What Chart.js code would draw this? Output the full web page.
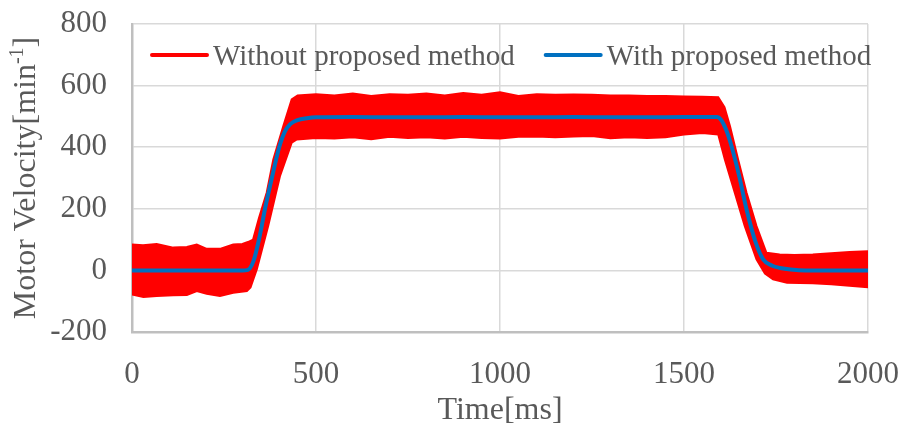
<!DOCTYPE html>
<html>
<head>
<meta charset="utf-8">
<script src="https://cdn.jsdelivr.net/npm/chart.js@4"></script>
<style>
  body { margin: 0; background: #fff; }
</style>
</head>
<body>
<canvas id="velocityChart" width="905" height="432"></canvas>
<script>
// tick positions
const xTicks = [0, 500, 1000, 1500, 2000];
const yTicks = [-200, 0, 200, 400, 600, 800];

// "With proposed method" velocity profile [ms, min^-1]
const withTime = [0, 300, 315, 330, 345, 363, 380, 400, 415, 430, 450, 475, 500, 600, 700, 800, 900, 1000, 1100, 1200, 1300, 1400, 1500, 1590, 1600, 1615, 1629, 1650, 1670, 1695, 1715, 1740, 1761, 1790, 1830, 2000];
const withVel = [0, 0, 2, 30, 100, 209, 300, 400, 450, 475, 488, 494, 497, 498, 497, 497, 498, 497, 497, 498, 497, 497, 498, 498, 490, 455, 404, 306, 198, 90, 36, 15, 8, 3, 0, 0];

// "Without proposed method": the oscillation is dense, so it is drawn as its upper/lower envelope
const upperTime = [0, 30, 67, 112, 149, 176, 203, 239, 275, 300, 315, 329, 345, 366, 384, 411, 434, 450, 500, 550, 600, 650, 700, 750, 800, 850, 900, 950, 1000, 1050, 1100, 1150, 1200, 1250, 1300, 1350, 1400, 1450, 1500, 1550, 1593, 1610, 1625, 1647, 1670, 1697, 1724, 1760, 1800, 1850, 1900, 1950, 2000];
const upperVel = [84, 82, 86, 74, 76, 84, 70, 70, 84, 86, 92, 100, 170, 252, 360, 468, 555, 568, 572, 568, 574, 566, 572, 570, 574, 568, 576, 570, 578, 566, 572, 570, 571, 570, 568, 568, 566, 566, 565, 564, 562, 530, 468, 360, 252, 144, 57, 52, 50, 52, 56, 60, 62];

const lowerTime = [0, 31, 67, 112, 149, 176, 203, 239, 275, 312, 322, 339, 370, 402, 434, 448, 500, 550, 600, 650, 700, 750, 800, 850, 900, 950, 1000, 1050, 1100, 1150, 1200, 1250, 1300, 1350, 1400, 1450, 1500, 1550, 1593, 1611, 1638, 1665, 1697, 1720, 1742, 1780, 1850, 1900, 1950, 2000];
const lowerVel = [-78, -86, -83, -81, -80, -67, -76, -83, -73, -67, -55, 3, 144, 306, 415, 425, 430, 428, 432, 426, 434, 430, 432, 428, 434, 430, 428, 434, 435, 432, 435, 436, 429, 432, 430, 432, 441, 446, 441, 360, 252, 144, 36, -10, -29, -40, -42, -45, -50, -55];

const serif = '"Liberation Serif", "Times New Roman", serif';
const textColor = '#595959';

const toPoints = (xs, ys) => xs.map((x, i) => ({ x: x, y: ys[i] }));

// y axis title (with superscript) and the legend inside the plot area
const overlayText = {
    id: 'overlayText',
    afterDraw(chart) {
        const { ctx, chartArea } = chart;

        ctx.save();
        ctx.fillStyle = textColor;
        ctx.textBaseline = 'middle';
        ctx.translate(27, (chartArea.top + chartArea.bottom) / 2);
        ctx.rotate(-Math.PI / 2);
        const main = 'Motor Velocity[min', sup = '-1', end = ']';
        ctx.font = `32px ${serif}`;
        const w1 = ctx.measureText(main).width;
        const w3 = ctx.measureText(end).width;
        ctx.font = `20px ${serif}`;
        const w2 = ctx.measureText(sup).width;
        let x = -(w1 + w2 + w3) / 2;
        ctx.font = `32px ${serif}`;
        ctx.textAlign = 'left';
        ctx.fillText(main, x, 0);
        x += w1;
        ctx.font = `20px ${serif}`;
        ctx.fillText(sup, x, -9);
        x += w2;
        ctx.font = `32px ${serif}`;
        ctx.fillText(end, x, 0);
        ctx.restore();

        ctx.save();
        ctx.font = `29px ${serif}`;
        ctx.textBaseline = 'alphabetic';
        ctx.lineCap = 'round';
        let lx = 152;
        const ly = 55;
        chart.data.datasets.forEach(ds => {
            if (!ds.label) return;
            ctx.strokeStyle = ds.borderColor;
            ctx.lineWidth = 4;
            ctx.beginPath();
            ctx.moveTo(lx, ly);
            ctx.lineTo(lx + 55, ly);
            ctx.stroke();
            ctx.fillStyle = textColor;
            ctx.fillText(ds.label, lx + 61, ly + 10);
            lx += 61 + ctx.measureText(ds.label).width + 31;
        });
        ctx.restore();
    }
};

const ctx = document.getElementById('velocityChart').getContext('2d');
new Chart(ctx, {
    type: 'line',
    data: {
        datasets: [
            {
                label: 'Without proposed method',
                data: toPoints(upperTime, upperVel),
                borderColor: '#FF0000',
                backgroundColor: '#FF0000',
                borderWidth: 2,
                fill: '+1',
                order: 1
            },
            {
                label: '',
                data: toPoints(lowerTime, lowerVel),
                borderColor: '#FF0000',
                backgroundColor: '#FF0000',
                borderWidth: 2,
                fill: false,
                order: 2
            },
            {
                label: 'With proposed method',
                data: toPoints(withTime, withVel),
                borderColor: '#0070C0',
                borderWidth: 4,
                cubicInterpolationMode: 'monotone',
                fill: false,
                order: 0
            }
        ]
    },
    options: {
        responsive: false,
        animation: false,
        elements: { point: { radius: 0 } },
        layout: { padding: { top: 24, right: 37, left: 0, bottom: 0 } },
        plugins: {
            legend: { display: false },
            tooltip: { enabled: false }
        },
        scales: {
            x: {
                type: 'linear',
                min: 0,
                max: 2000,
                afterBuildTicks: scale => { scale.ticks = xTicks.map(v => ({ value: v })); },
                afterFit: scale => {
                    scale.height = 100;
                    scale.paddingLeft = 0;
                    scale.paddingRight = 0;
                },
                grid: { color: '#d9d9d9', lineWidth: 1.5, drawTicks: false },
                border: { display: true, color: '#bfbfbf', width: 2.5 },
                ticks: { padding: 24, color: textColor, font: { family: serif, size: 31 }, maxRotation: 0, callback: v => String(v) },
                title: {
                    display: true,
                    text: 'Time[ms]',
                    color: textColor,
                    font: { family: serif, size: 32 },
                    padding: { top: 0, bottom: 2 }
                }
            },
            y: {
                type: 'linear',
                min: -200,
                max: 800,
                afterBuildTicks: scale => { scale.ticks = yTicks.map(v => ({ value: v })); },
                afterFit: scale => {
                    scale.width = 132;
                    scale.paddingTop = 0;
                    scale.paddingBottom = 0;
                },
                grid: { color: '#d9d9d9', lineWidth: 1.5, drawTicks: false },
                border: { display: true, color: '#bfbfbf', width: 2.5 },
                ticks: { padding: 25, color: textColor, font: { family: serif, size: 31 }, callback: v => String(v) }
            }
        }
    },
    plugins: [overlayText]
});
</script>
</body>
</html>
